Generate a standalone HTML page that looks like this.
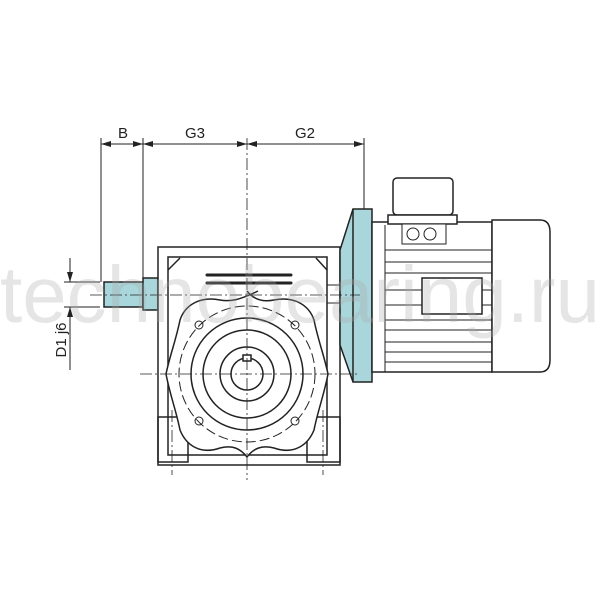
<!DOCTYPE html>
<html><head><meta charset="utf-8"><style>body{margin:0;background:#fff}svg{display:block}</style></head><body>
<svg width="600" height="600" viewBox="0 0 600 600" xmlns="http://www.w3.org/2000/svg" font-family="Liberation Sans, sans-serif">
<defs><marker id="a" markerWidth="10" markerHeight="6" refX="10" refY="3" orient="auto"><path d="M0,0 L10,3 L0,6z" fill="#222"/></marker></defs>
<g stroke="#222" stroke-width="1" fill="none">
<line x1="101" y1="138" x2="101" y2="282"/><line x1="143" y1="138" x2="143" y2="278"/><line x1="364" y1="138" x2="364" y2="209"/>
<line x1="101" y1="144" x2="143" y2="144" marker-end="url(#a)"/><line x1="143" y1="144" x2="101" y2="144" marker-end="url(#a)"/>
<line x1="143" y1="144" x2="247" y2="144" marker-end="url(#a)"/><line x1="247" y1="144" x2="143" y2="144" marker-end="url(#a)"/>
<line x1="247" y1="144" x2="364" y2="144" marker-end="url(#a)"/><line x1="364" y1="144" x2="247" y2="144" marker-end="url(#a)"/>
<line x1="70" y1="258" x2="70" y2="282" marker-end="url(#a)"/><line x1="70" y1="330" x2="70" y2="307" marker-end="url(#a)"/>
<line x1="70" y1="307" x2="70" y2="370"/><line x1="64" y1="282" x2="100" y2="282"/><line x1="64" y1="307" x2="100" y2="307"/>
</g>
<g font-size="15" fill="#222" text-anchor="middle"><text x="123" y="138">B</text><text x="195" y="138">G3</text><text x="305" y="138">G2</text>
<text transform="translate(66,340) rotate(-90)">D1 j6</text></g>
<g stroke="#222" stroke-width="1.5" fill="none">
<rect x="104" y="282" width="39" height="25" fill="#a9d6db"/>
<rect x="143" y="278" width="15" height="32" fill="#a9d6db"/>
<path d="M158 247 H340 V465 H158 Z" fill="#fff"/>
<path d="M168 257 H327 V455 H168 Z"/>
<rect x="158" y="417" width="30" height="45"/><rect x="307" y="417" width="33" height="45"/>
<rect x="327" y="285" width="13" height="18" stroke-width="1"/>
<path d="M207 275 H291 M207 283 H291" stroke-width="3" stroke-linecap="round"/>
<path d="M180 258 L168 270 M316 258 L327 270"/>
<path d="M258 291 C240 300 230 302 220 300 C200 296 185 305 180 320 C176 340 170 355 166 374 C170 395 176 410 180 430 C186 445 200 455 220 448 C232 445 240 448 247 457 C254 448 262 445 274 448 C294 455 308 445 314 430 C318 410 324 395 328 374 C324 355 318 340 314 320 C309 305 294 296 274 300 C264 302 254 300 247 291" fill="#fff"/>
<circle cx="247" cy="374" r="68" stroke-dasharray="10 4" stroke-width="1"/>
<circle cx="247" cy="374" r="56"/><circle cx="247" cy="374" r="44"/><circle cx="247" cy="374" r="27"/>
<circle cx="247" cy="374" r="16"/><rect x="243" y="355" width="8" height="6" fill="#fff"/>
<g stroke-width="1"><circle cx="199" cy="325" r="4"/><circle cx="295" cy="325" r="4"/><circle cx="199" cy="421" r="4"/><circle cx="295" cy="421" r="4"/></g>
<path d="M340 250 L353 209 H372 V382 H353 L340 345 Z" fill="#a9d6db"/>
<line x1="353" y1="209" x2="353" y2="382"/>
<rect x="372" y="222" width="120" height="150" fill="#fff"/>
<path d="M492 220 H540 Q550 220 550 232 V360 Q550 372 540 372 H492 Z" fill="#fff"/>
<rect x="393" y="178" width="60" height="37" rx="4" fill="#fff"/><rect x="388" y="215" width="69" height="9" fill="#fff"/>
<rect x="402" y="224" width="44" height="20" fill="#fff" stroke-width="1"/>
<circle cx="413" cy="234" r="6" stroke-width="1"/><circle cx="430" cy="234" r="6" stroke-width="1"/>
<rect x="422" y="278" width="60" height="36" fill="#fff"/>
<g stroke-width="1"><line x1="385" y1="225" x2="385" y2="372"/>
<path d="M385 250 H492 M385 262 H492 M385 273 H492 M385 320 H492 M385 330 H492 M385 342 H492 M385 352 H492 M385 362 H492 M385 290 H422 M385 305 H422 M482 290 H492 M482 305 H492"/></g>
</g>
<g stroke="#222" stroke-width="0.8" stroke-dasharray="12 3 2 3" fill="none">
<line x1="247" y1="138" x2="247" y2="480"/><line x1="140" y1="374" x2="360" y2="374"/><line x1="90" y1="295" x2="360" y2="295"/>
<line x1="172" y1="410" x2="172" y2="475"/><line x1="323" y1="410" x2="323" y2="475"/>
</g>
<text x="300" y="322" font-size="80" fill="#aaa" fill-opacity="0.3" text-anchor="middle" textLength="600" lengthAdjust="spacingAndGlyphs">technobearing.ru</text>
</svg>
</body></html>
